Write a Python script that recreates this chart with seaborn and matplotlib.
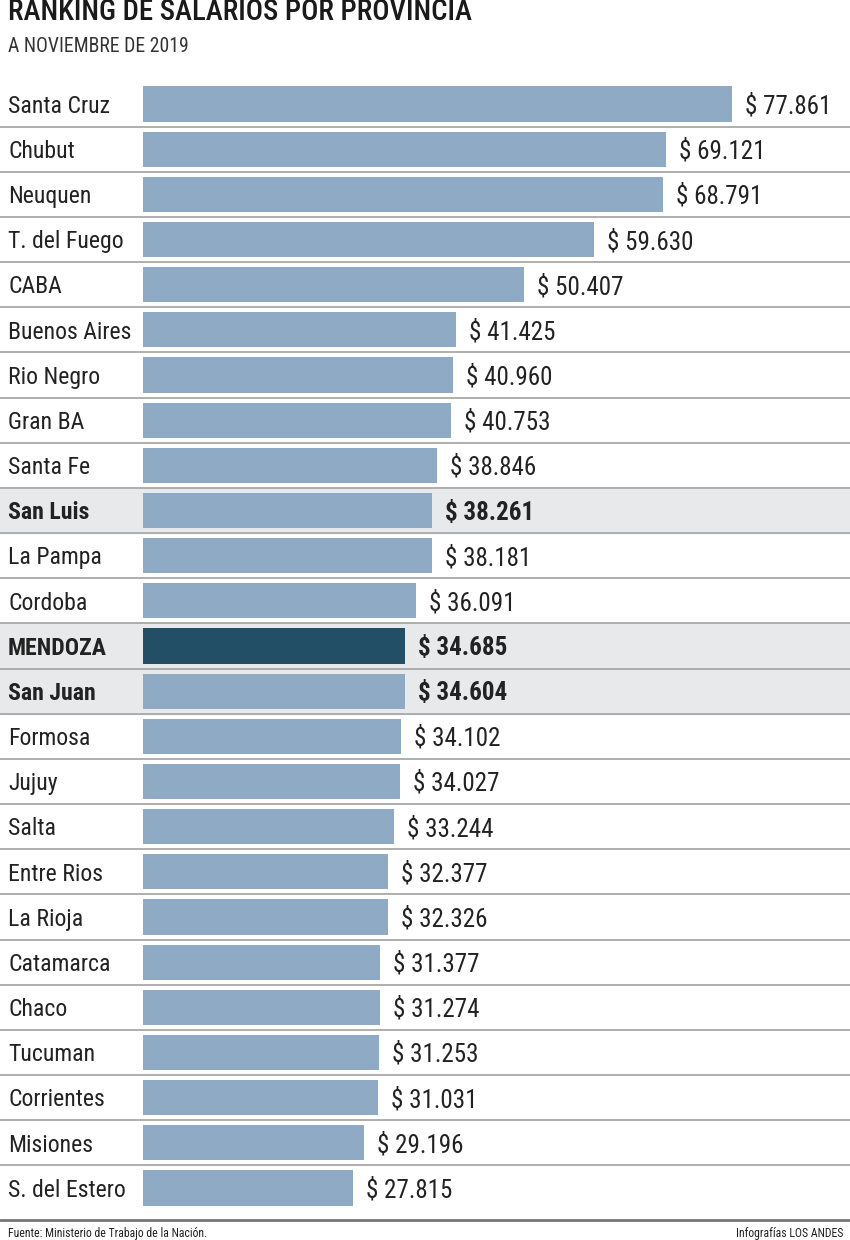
import matplotlib
matplotlib.use("Agg")
import matplotlib.pyplot as plt
from matplotlib import font_manager
import seaborn as sns
import pandas as pd
from matplotlib.lines import Line2D

# data
provincias = ["Santa Cruz", "Chubut", "Neuquen", "T. del Fuego", "CABA", "Buenos Aires",
              "Rio Negro", "Gran BA", "Santa Fe", "San Luis", "La Pampa", "Cordoba",
              "MENDOZA", "San Juan", "Formosa", "Jujuy", "Salta", "Entre Rios",
              "La Rioja", "Catamarca", "Chaco", "Tucuman", "Corrientes", "Misiones",
              "S. del Estero"]
salarios = [77861, 69121, 68791, 59630, 50407, 41425, 40960, 40753, 38846, 38261,
            38181, 36091, 34685, 34604, 34102, 34027, 33244, 32377, 32326, 31377,
            31274, 31253, 31031, 29196, 27815]
destacadas = ["San Luis", "MENDOZA", "San Juan"]
principal = "MENDOZA"

df = pd.DataFrame({"provincia": provincias, "salario": salarios})
df["grupo"] = ["main" if p == principal else "rest" for p in provincias]

sns.set_theme(style="white")

# look for a narrow face, the original uses a condensed font
fonts = font_manager.fontManager.ttflist
names = {f.name for f in fonts}
fam, stretch, fs = "DejaVu Sans", "normal", 14.5
for cand in ["Roboto Condensed", "Liberation Sans Narrow", "Open Sans Condensed"]:
    if cand in names:
        fam, fs = cand, 18
        break
else:
    if any(f.name == "DejaVu Sans" and f.stretch == "condensed" for f in fonts):
        stretch, fs = "condensed", 16
plt.rcParams["font.family"] = [fam, "DejaVu Sans"]
plt.rcParams["font.stretch"] = stretch

W, H = 850, 1240
fig = plt.figure(figsize=(W / 100, H / 100), dpi=100)
ax_left, ax_right = 143, 850
row_top, row_bot = 81.5, 1210.5
ax = fig.add_axes([ax_left / W, 1 - row_bot / H, (ax_right - ax_left) / W, (row_bot - row_top) / H])

sns.barplot(data=df, y="provincia", x="salario", hue="grupo",
            palette={"main": "#234f66", "rest": "#8eaac4"}, orient="h",
            width=0.78, legend=False, saturation=1, linewidth=0, ax=ax)

scale = 589 / 77861  # px per peso
ax.set_xlim(0, (ax_right - ax_left) / scale)
ax.set_ylim(len(provincias) - 0.5, -0.5)
ax.set_axis_off()

xoff = -ax_left / (ax_right - ax_left)
for i, (p, v) in enumerate(zip(provincias, salarios)):
    bold = p in destacadas
    if bold:
        ax.axhspan(i - 0.5, i + 0.5, xmin=xoff, xmax=1, color="#e8e9eb", zorder=0, clip_on=False)
    if i < len(provincias) - 1:
        ax.axhline(i + 0.5, xmin=xoff, xmax=1, color="#a8a8a8", lw=1.3, clip_on=False, zorder=1)
    ax.text(xoff + 8 / (ax_right - ax_left), i + 0.05, p, transform=ax.get_yaxis_transform(),
            ha="left", va="center", fontsize=fs * 0.95, color="#222222",
            fontweight="bold" if bold else "normal", clip_on=False)
    lab = "$ " + f"{v:,}".replace(",", ".")
    ax.text(v + 13 / scale, i + 0.05, lab, ha="left", va="center", fontsize=fs, color="#222222",
            fontweight="bold" if bold else "normal")

fig.text(8 / W, 1 - 20 / H, "RANKING DE SALARIOS POR PROVINCIA", ha="left", va="baseline",
         fontsize=fs * 1.15, fontweight="medium", color="#1a1a1a")
fig.text(8 / W, 1 - 47 / H, "A NOVIEMBRE DE 2019", ha="left", va="center",
         fontsize=fs * 0.79, color="#333333")

fig.add_artist(Line2D([0, 1], [1 - 1220 / H] * 2, color="#777777", lw=2, transform=fig.transFigure))
fig.text(8 / W, 1 - 1233 / H, "Fuente: Ministerio de Trabajo de la Nación.", ha="left", va="center",
         fontsize=fs * 0.47, color="#222222")
fig.text(843 / W, 1 - 1233 / H, "Infografías LOS ANDES", ha="right", va="center",
         fontsize=fs * 0.47, color="#222222")

fig.savefig("out.png", dpi=100, facecolor="white")
